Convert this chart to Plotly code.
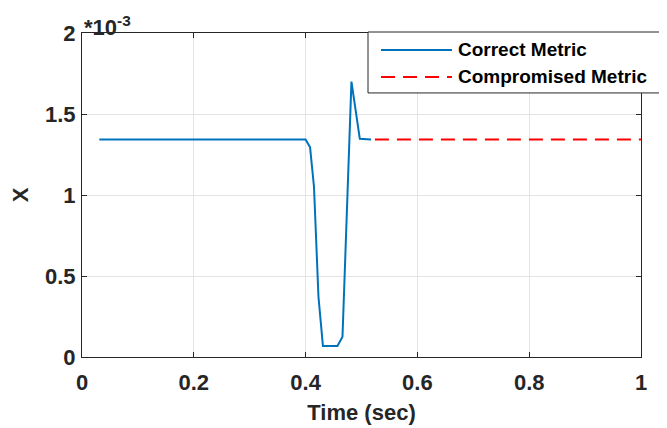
import plotly.graph_objects as go

# Data (y values in units of 1e-3)
time_correct = [0.031, 0.400, 0.408, 0.415, 0.423, 0.431, 0.457, 0.466, 0.482, 0.489, 0.497, 0.517]
x_correct = [1.343, 1.343, 1.294, 1.051, 0.372, 0.068, 0.068, 0.125, 1.700, 1.52, 1.347, 1.343]
time_comp = [0.524, 1.0]
x_comp = [1.343, 1.343]

x_ticks = [0, 0.2, 0.4, 0.6, 0.8, 1]
x_ticktext = ["0", "0.2", "0.4", "0.6", "0.8", "1"]
y_ticks = [0, 0.5, 1, 1.5, 2]
y_ticktext = ["0", "0.5", "1", "1.5", "2"]
names = ["Correct Metric", "Compromised Metric"]

FONT = "Liberation Sans, Arial, Helvetica, sans-serif"
AX = "#262626"
BLUE = "#0072BD"
RED = "#FF0000"

fig = go.Figure()
fig.add_trace(go.Scatter(x=time_correct, y=x_correct, mode="lines", name=names[0],
                         line=dict(color=BLUE, width=2), showlegend=False))
fig.add_trace(go.Scatter(x=time_comp, y=x_comp, mode="lines", name=names[1],
                         line=dict(color=RED, width=2, dash="14px,8px"), showlegend=False))

axis_common = dict(
    showgrid=True, gridcolor="#e3e3e3", gridwidth=1,
    showline=True, linecolor=AX, linewidth=1, mirror="ticks",
    ticks="inside", ticklen=5, tickcolor=AX, tickwidth=1,
    zeroline=False, automargin=False,
    tickfont=dict(family=FONT, size=22, color=AX, weight="bold"),
)

fig.update_layout(
    width=667, height=428,
    margin=dict(l=74, r=34, t=25, b=79, autoexpand=False),
    paper_bgcolor="white", plot_bgcolor="white",
    xaxis=dict(range=[0, 1], tickvals=x_ticks, ticktext=x_ticktext,
               title=dict(text="Time (sec)", font=dict(family=FONT, size=22, color=AX, weight="bold"), standoff=10),
               ticklabelstandoff=6, **axis_common),
    yaxis=dict(range=[0, 2], tickvals=y_ticks, ticktext=y_ticktext,
               title=dict(text="X", font=dict(family=FONT, size=22, color=AX, weight="bold"), standoff=21),
               ticklabelstandoff=1, **axis_common),
)

# exponent label
fig.add_annotation(xref="paper", yref="paper", x=0, y=1, xanchor="left", yanchor="bottom",
                   text="*10<sup>-3</sup>", showarrow=False, yshift=-9,
                   font=dict(family=FONT, size=22, color=AX, weight="bold"))

# custom legend (MATLAB style); positions relative to plot area
def px_x(p):
    return (p - 82) / 559.0

def px_y(p):
    return (357.3 - p) / 324.3

fig.add_shape(type="rect", xref="paper", yref="paper",
              x0=px_x(368), x1=px_x(700), y0=px_y(93), y1=px_y(32),
              line=dict(color=AX, width=1), fillcolor="white", layer="above")
legend_rows = [(50, BLUE, "solid", names[0]), (77, RED, "14px,8px", names[1])]
for py, col, dash, nm in legend_rows:
    fig.add_shape(type="line", xref="paper", yref="paper",
                  x0=px_x(381), x1=px_x(452), y0=px_y(py), y1=px_y(py),
                  line=dict(color=col, width=2, dash=dash), layer="above")
    fig.add_annotation(xref="paper", yref="paper", x=px_x(456), y=px_y(py),
                       xanchor="left", yanchor="middle", text=nm, showarrow=False,
                       font=dict(family=FONT, size=19, color="black", weight="bold"))

fig.write_html("out.html")
